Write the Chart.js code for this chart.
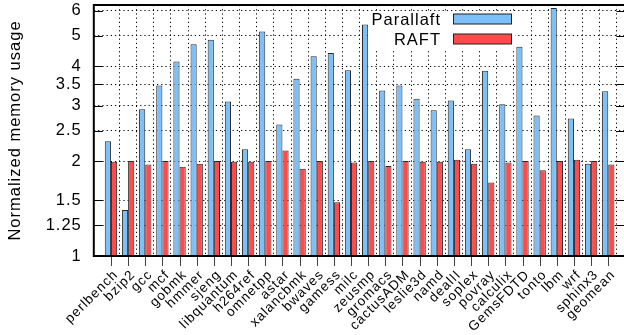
<!DOCTYPE html>
<html>
<head>
<meta charset="utf-8">
<title>Normalized memory usage</title>
<script src="https://cdn.jsdelivr.net/npm/chart.js@4.4.1/dist/chart.umd.min.js"></script>
<style>
  html, body { margin: 0; padding: 0; background: #fff; overflow: hidden; }
  #wrap { width: 630px; height: 335px; }
</style>
</head>
<body>
<div id="wrap"><canvas id="memChart" width="630" height="335"></canvas></div>
<script>
// SPEC CPU2006 benchmarks, memory usage normalized to the baseline run
const benchmarks = ['perlbench', 'bzip2', 'gcc', 'mcf', 'gobmk', 'hmmer', 'sjeng', 'libquantum',
  'h264ref', 'omnetpp', 'astar', 'xalancbmk', 'bwaves', 'gamess', 'milc', 'zeusmp', 'gromacs',
  'cactusADM', 'leslie3d', 'namd', 'dealII', 'soplex', 'povray', 'calculix', 'GemsFDTD', 'tonto',
  'lbm', 'wrf', 'sphinx3', 'geomean'];

const parallaftUsage = [2.31, 1.40, 2.92, 3.47, 4.14, 4.69, 4.85, 3.09, 2.18, 5.15, 2.61, 3.65,
  4.30, 4.40, 3.88, 5.42, 3.35, 3.47, 3.15, 2.90, 3.11, 2.18, 3.87, 3.03, 4.61, 2.79, 6.12, 2.73,
  1.96, 3.33];

const raftUsage = [1.99, 2.00, 1.95, 2.00, 1.92, 1.96, 2.00, 1.99, 1.99, 2.00, 2.16, 1.89, 2.00,
  1.48, 1.98, 2.00, 1.93, 2.00, 1.99, 1.99, 2.02, 1.96, 1.71, 1.98, 2.00, 1.87, 2.00, 2.02, 2.00,
  1.95];

const yTickValues = [1, 1.25, 1.5, 2, 2.5, 3, 3.5, 4, 5, 6];

// gnuplot-ish layout: one empty slot on each side of the bars (xrange [-1:30])
const labels = ['', ...benchmarks, ''];
const pad = arr => [null, ...arr, null];

const FONT = "'Liberation Sans', Arial, Helvetica, sans-serif";

// wider text spacing, the reference font runs wide
const spacingPlugin = {
  id: 'spacing',
  beforeLayout(chart) { chart.ctx.letterSpacing = '1px'; },
  beforeDraw(chart) { chart.ctx.letterSpacing = '1px'; }
};

// frame, inner y tics and outer x tics
const framePlugin = {
  id: 'frame',
  afterDatasetsDraw(chart) {
    const { ctx, chartArea, scales } = chart;
    const x = scales.x, y = scales.y;
    const { left, top, right, bottom } = chartArea;
    ctx.save();
    ctx.strokeStyle = '#000';
    ctx.lineWidth = 1;
    yTickValues.forEach(v => {
      const py = Math.round(y.getPixelForValue(v)) + 0.5;
      ctx.beginPath();
      ctx.moveTo(left, py); ctx.lineTo(left + 9, py);
      ctx.moveTo(right - 9, py); ctx.lineTo(right, py);
      ctx.stroke();
    });
    ctx.strokeStyle = '#444';
    benchmarks.forEach((b, i) => {
      const px = Math.round(x.getPixelForValue(i + 1)) + 0.5;
      ctx.beginPath();
      ctx.moveTo(px, bottom); ctx.lineTo(px, bottom + 10);
      ctx.stroke();
    });
    ctx.strokeStyle = '#000';
    ctx.lineWidth = 2;
    ctx.strokeRect(left, top, right - left, bottom - top);
    ctx.restore();
  }
};

// key in the top of the plot: text first, sample box after it
const keyPlugin = {
  id: 'key',
  afterDatasetsDraw(chart) {
    const { ctx } = chart;
    ctx.save();
    ctx.fillStyle = '#fff';
    ctx.fillRect(368, 12, 147, 37);
    ctx.font = '16.5px ' + FONT;
    ctx.textAlign = 'right';
    ctx.textBaseline = 'middle';
    chart.data.datasets.forEach((ds, i) => {
      const cy = 19 + i * 20;
      ctx.fillStyle = '#000';
      ctx.fillText(ds.label, 441, cy + 1);
      ctx.fillStyle = ds.backgroundColor;
      ctx.fillRect(453.5, cy - 5, 58, 10);
      ctx.strokeStyle = '#222';
      ctx.lineWidth = 1;
      ctx.strokeRect(453.5, cy - 5, 58, 10);
    });
    ctx.restore();
  }
};

const ctx = document.getElementById('memChart').getContext('2d');
new Chart(ctx, {
  type: 'bar',
  data: {
    labels: labels,
    datasets: [{
      label: 'Parallaft',
      data: pad(parallaftUsage),
      backgroundColor: '#7dbff8',
      borderColor: '#2a2a2a',
      borderWidth: 1,
      borderSkipped: 'start'
    }, {
      label: 'RAFT',
      data: pad(raftUsage),
      backgroundColor: '#ff4b4b',
      borderColor: '#2a2a2a',
      borderWidth: 1,
      borderSkipped: 'start'
    }]
  },
  options: {
    responsive: false,
    animation: false,
    devicePixelRatio: 1,
    layout: { padding: { left: 0, top: 5, right: 4.6, bottom: 0 } },
    datasets: { bar: { categoryPercentage: 0.72, barPercentage: 1.0 } },
    plugins: {
      legend: { display: false },
      tooltip: { enabled: false }
    },
    scales: {
      x: {
        offset: false,
        grid: {
          offset: true,
          drawTicks: false,
          color: ctx => (ctx.index <= 1 ? 'rgba(0,0,0,0)' : '#000'),
          lineWidth: 1
        },
        border: { display: false, dash: [1.2, 3] },
        ticks: {
          autoSkip: false,
          maxRotation: 45,
          minRotation: 45,
          padding: 11,
          labelOffset: 5,
          color: '#000',
          font: { family: FONT, size: 13.5 }
        },
        afterFit(scale) {
          scale.height = 79;
          scale.paddingLeft = 0;
          scale.paddingRight = 0;
        }
      },
      y: {
        type: 'logarithmic',
        bounds: 'data',
        min: 1,
        max: 6.25,
        grid: { color: '#000', lineWidth: 1, drawTicks: false },
        border: { display: false, dash: [1.2, 3] },
        afterBuildTicks(scale) {
          scale.ticks = yTickValues.map(v => ({ value: v }));
        },
        ticks: {
          padding: 12,
          color: '#000',
          font: { family: FONT, size: 16.5 },
          callback: v => String(v)
        },
        title: {
          display: true,
          text: 'Normalized memory usage',
          color: '#000',
          font: { family: FONT, size: 16.5 },
          padding: { top: 6, bottom: 0 }
        },
        afterFit(scale) {
          scale.width = 93.8;
          scale.paddingTop = 0;
          scale.paddingBottom = 0;
        }
      }
    }
  },
  plugins: [spacingPlugin, framePlugin, keyPlugin]
});
</script>
</body>
</html>
